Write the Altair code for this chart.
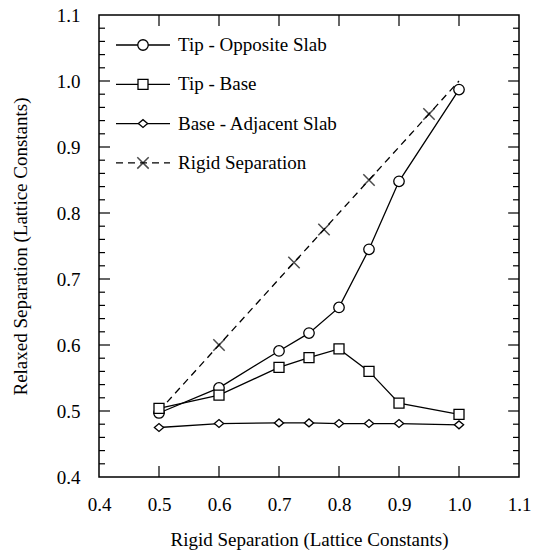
import altair as alt
import pandas as pd

# ---- data ----
x_vals = [0.5, 0.6, 0.7, 0.75, 0.8, 0.85, 0.9, 1.0]
tip_opposite = [0.497, 0.535, 0.591, 0.618, 0.657, 0.745, 0.848, 0.987]
tip_base = [0.504, 0.524, 0.566, 0.581, 0.594, 0.560, 0.512, 0.495]
base_adjacent = [0.475, 0.481, 0.482, 0.482, 0.481, 0.481, 0.481, 0.479]
rigid_x = [0.5, 0.6, 0.725, 0.775, 0.85, 0.95, 1.0]
rigid_y = [0.5, 0.6, 0.725, 0.775, 0.85, 0.95, 1.0]
rigid_marked = [False, True, True, True, True, True, False]
series_names = ["Tip - Opposite Slab", "Tip - Base", "Base - Adjacent Slab", "Rigid Separation"]

axis_labels = [0.4, 0.5, 0.6, 0.7, 0.8, 0.9, 1.0, 1.1]
major_ticks = [0.5, 0.6, 0.7, 0.8, 0.9, 1.0]
minor_y_ticks = [0.42, 0.44, 0.46, 0.48, 0.52, 0.54, 0.56, 0.58, 0.62, 0.64, 0.66, 0.68,
                 0.72, 0.74, 0.76, 0.78, 0.82, 0.84, 0.86, 0.88, 0.92, 0.94, 0.96, 0.98,
                 1.02, 1.04, 1.06, 1.08]

W, H = 420, 462
FONT = "Liberation Serif"
FS = 19

CIRCLE = "circle"
SQUARE = "square"
DIAMOND = "M-1,0L0,-0.85L1,0L0,0.85Z"
XMARK = "M-1,-1L1,1M-1,1L1,-1"

xs = alt.Scale(domain=[0.4, 1.1], nice=False, zero=False)
ys = alt.Scale(domain=[0.4, 1.1], nice=False, zero=False)

rows = []
for name, vals in zip(series_names[:3], [tip_opposite, tip_base, base_adjacent]):
    for xv, yv in zip(x_vals, vals):
        rows.append({"x": xv, "y": yv, "series": name})
df = pd.DataFrame(rows)
rigid_df = pd.DataFrame({"x": rigid_x, "y": rigid_y, "marked": rigid_marked})

x_axis = alt.Axis(values=axis_labels, format=".1f", ticks=False, domain=False, grid=False,
                  labelFont=FONT, labelFontSize=FS, labelPadding=18, labelFlush=False,
                  labelOverlap=False, labelColor="black",
                  title="Rigid Separation (Lattice Constants)", titleFont=FONT,
                  titleFontSize=FS, titleFontWeight="normal", titleColor="black",
                  titlePadding=16)
y_axis = alt.Axis(values=axis_labels, format=".1f", ticks=False, domain=False, grid=False,
                  labelFont=FONT, labelFontSize=FS, labelPadding=19, labelFlush=False,
                  labelOverlap=False, labelColor="black",
                  title="Relaxed Separation (Lattice Constants)", titleFont=FONT,
                  titleFontSize=FS, titleFontWeight="normal", titleColor="black",
                  titlePadding=26)


def X(field):
    return alt.X(field, scale=xs, axis=x_axis)


def Y(field):
    return alt.Y(field, scale=ys, axis=y_axis)


lines = alt.Chart(df).mark_line(color="black", strokeWidth=1.3).encode(
    x=X("x:Q"), y=Y("y:Q"), detail="series:N",
)
rigid_line = alt.Chart(rigid_df).mark_line(color="black", strokeWidth=1.3, strokeDash=[7, 5]).encode(
    x=X("x:Q"), y=Y("y:Q"),
)
rigid_pts = alt.Chart(rigid_df).transform_filter("datum.marked").mark_point(
    shape=XMARK, size=130, color="black", strokeWidth=1.5).encode(
    x=X("x:Q"), y=Y("y:Q"),
)

shapes = [(CIRCLE, 110), (SQUARE, 100), (DIAMOND, 85)]
point_layers = []
for name, (shp, sz) in zip(series_names[:3], shapes):
    point_layers.append(
        alt.Chart(df).transform_filter(alt.datum.series == name).mark_point(
            shape=shp, size=sz, filled=True, fill="white", stroke="black", strokeWidth=1.3,
            opacity=1).encode(x=X("x:Q"), y=Y("y:Q"))
    )

# inward tick marks
maj = pd.DataFrame({"v": major_ticks})
mnr = pd.DataFrame({"v": minor_y_ticks})
tk = dict(color="black", strokeWidth=1.2)
tick_layers = [
    alt.Chart(maj).mark_rule(**tk).encode(x=X("v:Q"), y=alt.value(H), y2=alt.value(H - 11)),
    alt.Chart(maj).mark_rule(**tk).encode(x=X("v:Q"), y=alt.value(0), y2=alt.value(11)),
    alt.Chart(maj).mark_rule(**tk).encode(y=Y("v:Q"), x=alt.value(0), x2=alt.value(11)),
    alt.Chart(maj).mark_rule(**tk).encode(y=Y("v:Q"), x=alt.value(W), x2=alt.value(W - 11)),
    alt.Chart(mnr).mark_rule(**tk).encode(y=Y("v:Q"), x=alt.value(0), x2=alt.value(6)),
    alt.Chart(mnr).mark_rule(**tk).encode(y=Y("v:Q"), x=alt.value(W), x2=alt.value(W - 6)),
]

# manual legend (top-left, inside the plot)
legend_layers = []
leg_df = pd.DataFrame({"name": series_names})
leg_shapes = [(CIRCLE, 110), (SQUARE, 100), (DIAMOND, 85), (XMARK, 130)]
for i, name in enumerate(series_names):
    yv = 30 + 39.3 * i
    sub = alt.Chart(leg_df).transform_filter(alt.datum.name == name)
    dash = [7, 5] if i == 3 else [1, 0]
    legend_layers.append(sub.mark_rule(color="black", strokeWidth=1.3, strokeDash=dash).encode(
        x=alt.value(17), x2=alt.value(71), y=alt.value(yv)))
    shp, sz = leg_shapes[i]
    if i == 3:
        legend_layers.append(sub.mark_point(shape=shp, size=sz, color="black", strokeWidth=1.5).encode(
            x=alt.value(44), y=alt.value(yv)))
    else:
        legend_layers.append(sub.mark_point(shape=shp, size=sz, filled=True, fill="white",
                                            stroke="black", strokeWidth=1.3, opacity=1).encode(
            x=alt.value(44), y=alt.value(yv)))
    legend_layers.append(sub.mark_text(align="left", baseline="middle", font=FONT, fontSize=FS,
                                       color="black").encode(
        x=alt.value(79), y=alt.value(yv), text="name:N"))

chart = alt.layer(
    lines, rigid_line, *point_layers, rigid_pts, *tick_layers, *legend_layers
).properties(
    width=W, height=H,
    autosize=alt.AutoSizeParams(type="none"),
    padding={"left": 99, "top": 15, "right": 15, "bottom": 79},
    background="white",
).configure_view(stroke="black", strokeWidth=1.5)

chart.save("out.html", embed_options={"renderer": "svg", "actions": False})
